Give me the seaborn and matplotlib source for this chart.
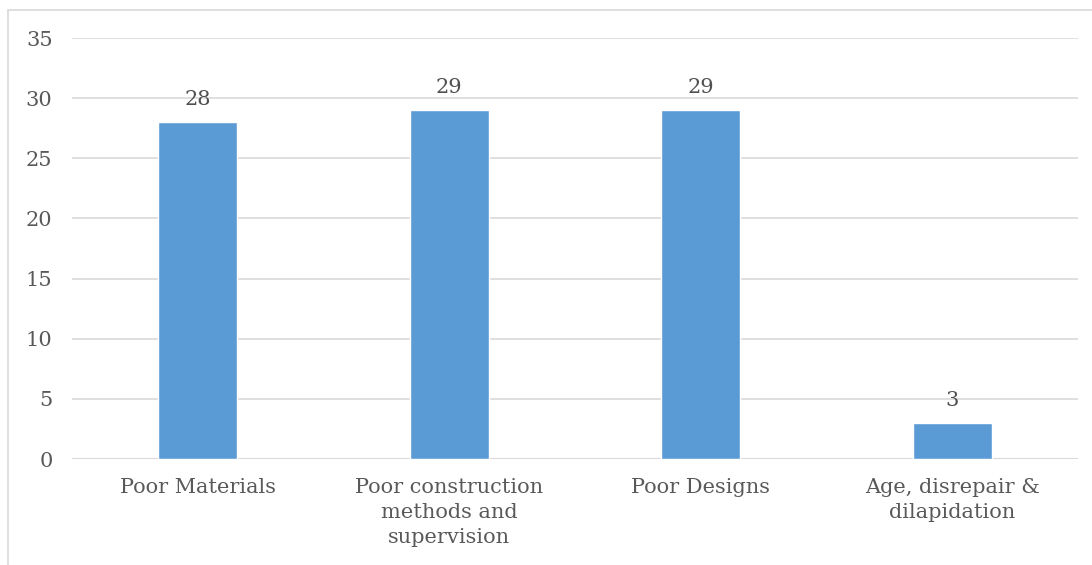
import matplotlib
matplotlib.use("Agg")
from matplotlib import pyplot as plt
from matplotlib.patches import Rectangle
import pandas as pd
import seaborn as sns

categories = ["Poor Materials",
              "Poor construction\nmethods and\nsupervision",
              "Poor Designs",
              "Age, disrepair &\ndilapidation"]
counts = [28, 29, 29, 3]

df = pd.DataFrame({"cause": categories, "count": counts})

sns.set_style("white")
plt.rcParams["font.family"] = ["DejaVu Serif", "DejaVu Sans"]
text_color = "#595959"
fs = 15

fig = plt.figure(figsize=(10.92, 5.65), dpi=100)
ax = fig.add_axes([0.0659, 0.1876, 0.9212, 0.7451])

sns.barplot(data=df, x="cause", y="count", color="#5B9BD5", width=0.315,
            saturation=1, ax=ax, zorder=3)

for i, v in enumerate(counts):
    ax.text(i, v + 1.1, str(v), ha="center", va="bottom",
            fontsize=fs, color="#505050")

ax.set_ylim(0, 35)
ax.set_xlim(-0.5, 3.5)
ax.set_yticks(range(0, 36, 5))
ax.yaxis.grid(True, color="#D9D9D9", linewidth=1.2, zorder=0)
ax.set_axisbelow(True)
for s in ["top", "right", "left", "bottom"]:
    ax.spines[s].set_visible(False)
ax.axhline(0, color="#D9D9D9", linewidth=1.5, zorder=1)

ax.set_xlabel("")
ax.set_ylabel("")
ax.tick_params(axis="y", length=0, pad=14, labelsize=fs, labelcolor=text_color)
ax.tick_params(axis="x", length=0, pad=14, labelsize=fs, labelcolor=text_color)
for lbl in ax.get_xticklabels():
    lbl.set_linespacing(1.4)

# outer chart border
fig.patches.append(Rectangle((8 / 1092, -0.1), 1.2, (565 - 10) / 565 + 0.1,
                             transform=fig.transFigure, fill=False,
                             edgecolor="#D9D9D9", linewidth=1.2))

fig.savefig("out.png", dpi=100)
